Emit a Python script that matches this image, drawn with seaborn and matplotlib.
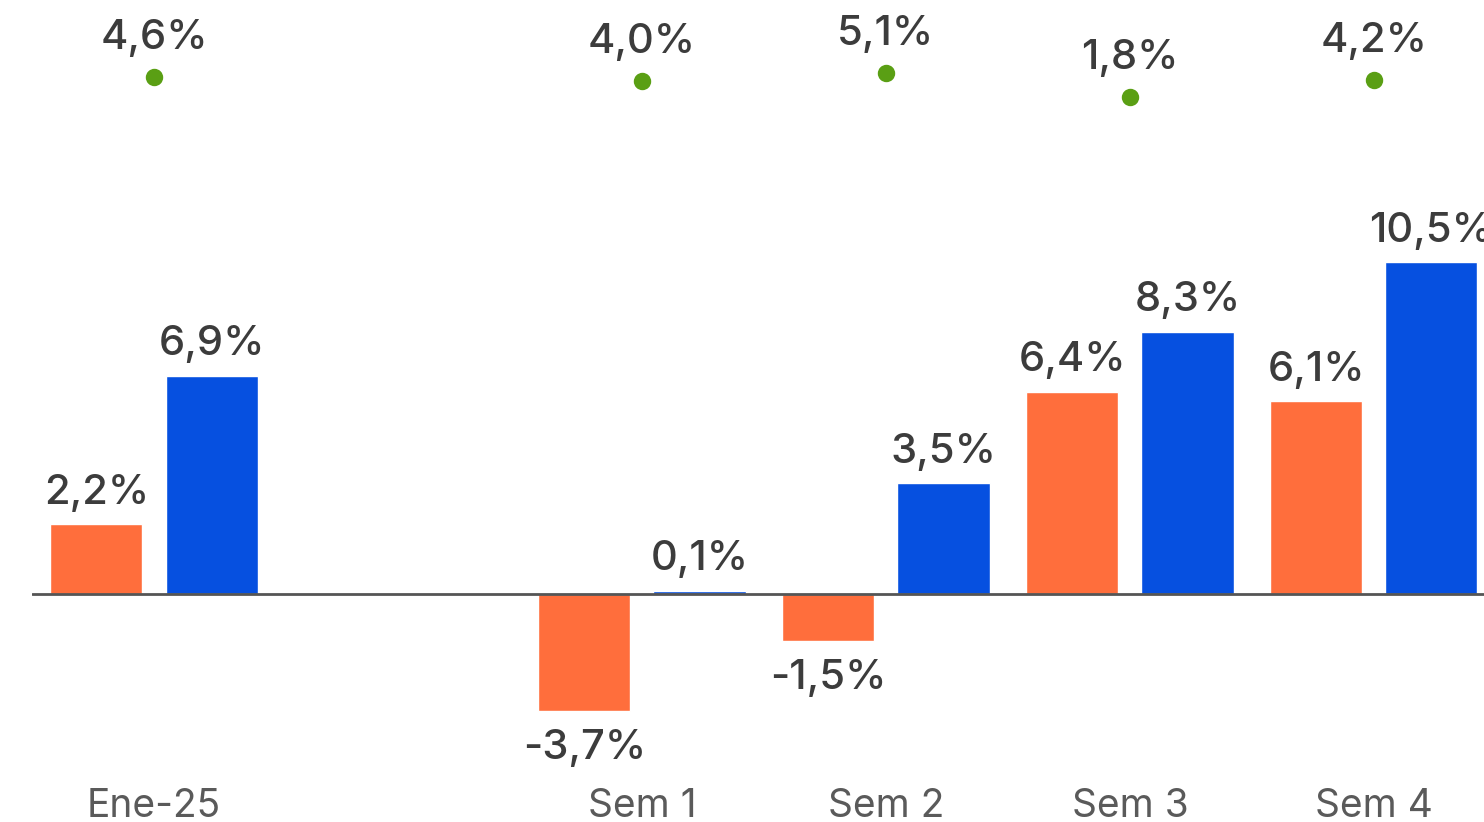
import matplotlib
matplotlib.use("Agg")
import matplotlib.pyplot as plt
import seaborn as sns
import pandas as pd

# ---- data ----
categories = ["Ene-25", " ", "Sem 1", "Sem 2", "Sem 3", "Sem 4"]
bar_categories = ["Ene-25", "Sem 1", "Sem 2", "Sem 3", "Sem 4"]
series_a = [2.2, -3.7, -1.5, 6.4, 6.1]     # orange
series_b = [6.9, 0.1, 3.5, 8.3, 10.5]      # blue
dot_values = [4.6, 4.0, 5.1, 1.8, 4.2]     # green dots

ORANGE = "#FF6E3C"
BLUE = "#0650E0"
GREEN = "#5A9F14"
TXT = "#3C3C3C"
TICK = "#5A5A5A"

sns.set_theme(style="white")
plt.rcParams["font.family"] = ["Inter", "DejaVu Sans"]

df = pd.DataFrame({
    "cat": bar_categories * 2,
    "serie": ["A"] * len(bar_categories) + ["B"] * len(bar_categories),
    "val": series_a + series_b,
})
dots = pd.DataFrame({"cat": bar_categories, "val": dot_values})


def fmt(v):
    return f"{v:.1f}".replace(".", ",") + "%"


W, H = 1484, 822
fig = plt.figure(figsize=(W / 100, H / 100), dpi=100)
ax_bottom_px = 775
ax = fig.add_axes([32 / W, (H - ax_bottom_px) / H, (W - 32) / W, ax_bottom_px / H])

sns.barplot(data=df, x="cat", y="val", hue="serie", order=categories,
            hue_order=["A", "B"], palette=[ORANGE, BLUE], width=0.943, gap=0.2,
            errorbar=None, saturation=1, legend=False, ax=ax)

for cont in list(ax.containers):
    pos = [fmt(v) if v >= 0 else "" for v in cont.datavalues]
    neg = [fmt(v) if v < 0 else "" for v in cont.datavalues]
    ax.bar_label(cont, labels=pos, padding=9, fontsize=30, color=TXT, fontweight=500)
    ax.bar_label(cont, labels=neg, padding=13, fontsize=30, color=TXT, fontweight=500)

px_per_unit = 31.6
zero_px = 594
ax.set_ylim(-(ax_bottom_px - zero_px) / px_per_unit, zero_px / px_per_unit)
ax.set_xlim(-0.5, 5.451)
ax.axhline(0, color="#555555", lw=2, zorder=3)

ax.set_xticks(range(len(categories)))
ax.set_xticklabels(categories, fontsize=28, color=TICK)
ax.tick_params(axis="x", length=0, pad=9)
ax.set_yticks([])
ax.set_xlabel("")
ax.set_ylabel("")
for s in ax.spines.values():
    s.set_visible(False)

# secondary axis for dots
ax2 = ax.twinx()
sns.pointplot(data=dots, x="cat", y="val", order=categories, color=GREEN,
              linestyle="none", markers="o", markersize=10.5, errorbar=None, ax=ax2)
dot_zero_px = 110.1
dot_scale = 7.27
ax2.set_ylim((dot_zero_px - ax_bottom_px) / dot_scale, dot_zero_px / dot_scale)
ax2.set_xlim(-0.5, 5.451)
for c, v in zip(bar_categories, dot_values):
    xi = categories.index(c)
    ax2.annotate(fmt(v), (xi, v), xytext=(0, 20),
                 textcoords="offset points", ha="center", va="baseline",
                 fontsize=30, color=TXT, fontweight=500)
ax2.set_yticks([])
ax2.set_ylabel("")
ax2.set_xlabel("")
for s in ax2.spines.values():
    s.set_visible(False)

fig.savefig("out.png", dpi=100)
